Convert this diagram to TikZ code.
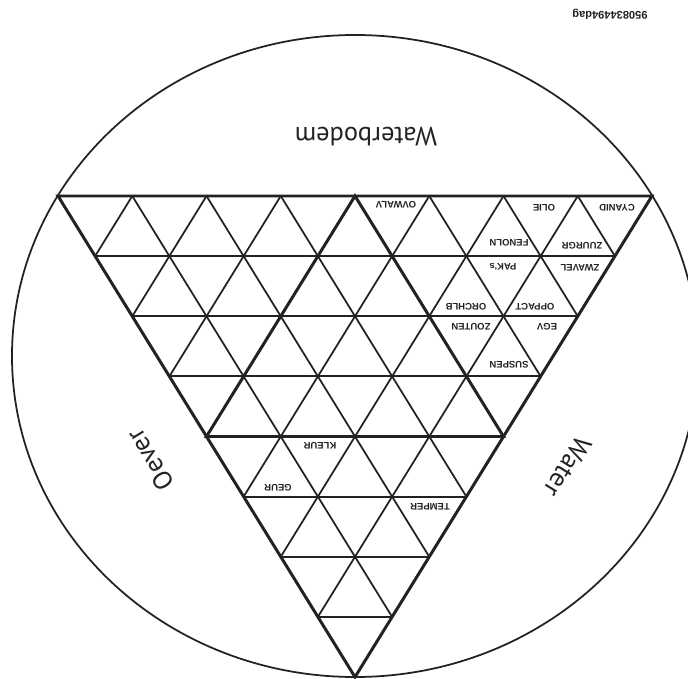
\documentclass[tikz,border=0pt]{standalone}
\usepackage{fontspec}
\newfontfamily\bigf{PT Sans}
\newfontfamily\smallf{Liberation Sans}
\usetikzlibrary{calc}
\definecolor{ink}{HTML}{222222}
\begin{document}
\begin{tikzpicture}[x=0.02cm,y=-0.02cm,
  gridline/.style={draw=ink,line width=1.0pt},
  heavy/.style={draw=ink,line width=1.7pt,line join=miter},
  rim/.style={draw=ink,line width=1.0pt},
  lab/.style={font=\smallf\bfseries\fontsize{5.4}{6}\selectfont,text=ink,rotate=180,inner sep=0pt},
  big/.style={font=\bigf\fontsize{15}{18}\selectfont,text=ink,inner sep=0pt},
  stamp/.style={font=\smallf\bfseries\fontsize{6.3}{7}\selectfont,text=ink,rotate=180,inner sep=0pt}]
\useasboundingbox (0,0) rectangle (688,678);
\clip (0,0) rectangle (688,678);
\fill[white] (0,0) rectangle (688,678);
\draw[rim] (355,356) ellipse [x radius=343, y radius=321];
\coordinate (A) at (58,196);
\coordinate (B) at (652,196);
\coordinate (C) at (355,677);
\foreach \k in {1,...,7}{
  \draw[gridline] ($(A)!{\k/8}!(C)$) -- ($(B)!{\k/8}!(C)$);
  \draw[gridline] ($(A)!{\k/8}!(B)$) -- ($(B)!{(8-\k)/8}!(C)$);
  \draw[gridline] ($(A)!{\k/8}!(B)$) -- ($(A)!{\k/8}!(C)$);
}
\draw[heavy] (A) -- (B) -- (C) -- cycle;
\draw[heavy] ($(A)!0.5!(C)$) -- ($(A)!0.5!(B)$) -- ($(B)!0.5!(C)$) -- cycle;
% cell labels
\node[lab] (cyanid) at (617,208) {CYANID};
\node[lab] (olie) at (544,208) {OLIE};
\node[lab] (zuurgr) at (582,246) {ZUURGR};
\node[lab] (fenoln) at (509,243) {FENOLN};
\node[lab] (zwavel) at (580,268) {ZWAVEL};
\node[lab] (paks) at (503,267) {PAK's};
\node[lab] (oppact) at (535,307) {OPPACT};
\node[lab] (orchlb) at (466,307) {ORCHLB};
\node[lab] (egv) at (547,327) {EGV};
\node[lab] (zouten) at (471,327) {ZOUTEN};
\node[lab] (suspen) at (509,365) {SUSPEN};
\node[lab] (ovwalv) at (396,205) {OVWALV};
\node[lab] (kleur) at (320,446) {KLEUR};
\node[lab] (geur) at (278,488) {GEUR};
\node[lab] (temper) at (430,507) {TEMPER};
% big labels
\node[big,rotate=180] (waterbodem) at (366,137) {Waterbodem};
\node[big,rotate=121.7] (oever) at (150,460) {Oever};
\node[big,rotate=238.3] (water) at (568,467) {Water};
\node[stamp] (code) at (610,14) {950834494dag};
\end{tikzpicture}
\end{document}
